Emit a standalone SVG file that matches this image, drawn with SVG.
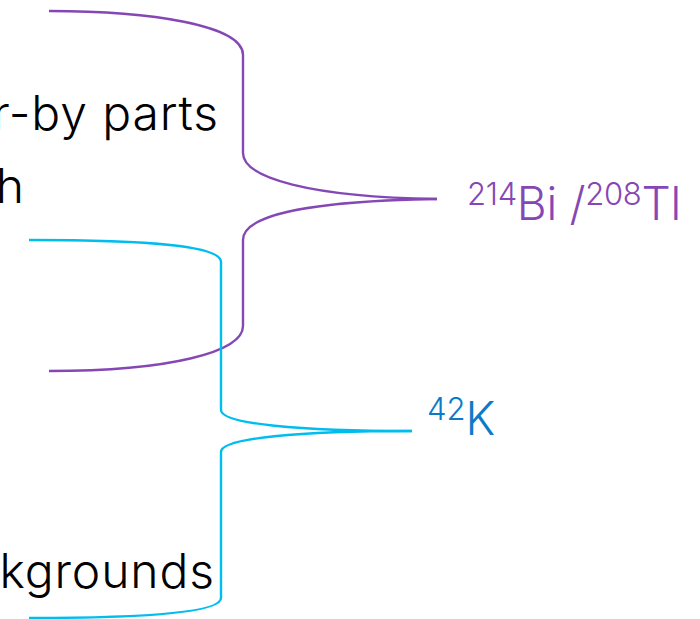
<svg xmlns="http://www.w3.org/2000/svg" width="700" height="619" viewBox="0 0 700 619">
<style>
.t{font-family:Inter,"Helvetica Neue","Liberation Sans",sans-serif;font-weight:300;}
.lbl{font-size:48px;fill:#000;letter-spacing:0.9px;}
.pur{stroke:#8547B5;stroke-width:2.4;fill:none;}
.cya{stroke:#00BDF0;stroke-width:2.4;fill:none;}
</style>
<rect width="700" height="619" fill="#fff"/>
<g id="connectors">
<path class="pur" d="M49,11 C150,11 243,25 243,55 L243,153 C243,178 310,197 437,199"/>
<path class="pur" d="M437,199 C310,201 243,215 243,240 L243,326 C243,352 170,371 49,371"/>
<path class="cya" d="M29,240 C150,240 221,246 221,262 L221,410 C221,424 300,431 412,431"/>
<path class="cya" d="M412,431 C300,431 221,438 221,452 L221,598 C221,612 150,618 29,618"/>
</g>
<g id="left-labels">
<text class="t lbl" x="219" y="130" text-anchor="end">r-by parts</text>
<text class="t lbl" x="25" y="203" text-anchor="end">h</text>
<text class="t lbl" x="215" y="588" text-anchor="end">kgrounds</text>
</g>
<g id="bi-tl">
<text class="t" x="467" y="220" fill="#8547B5" font-size="46" letter-spacing="-0.3"><tspan font-size="31" dy="-15">214</tspan><tspan dy="15">Bi /</tspan><tspan font-size="31" dy="-15">208</tspan><tspan dy="15">Tl</tspan></text>
</g>
<g id="k42">
<text class="t" x="427" y="435" fill="#0A7BC9" font-size="46"><tspan font-size="31" dy="-15">42</tspan><tspan dy="15">K</tspan></text>
</g>
</svg>
